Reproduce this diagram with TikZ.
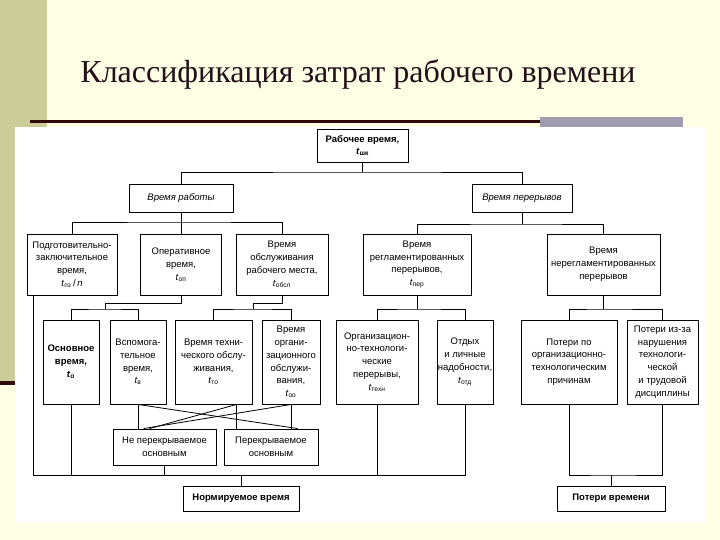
\documentclass[tikz,border=0pt]{standalone}
\usepackage{fontspec}
\setmainfont{Liberation Sans}
\newfontfamily\titlefont{Liberation Serif}
\usetikzlibrary{calc}
\definecolor{slidebg}{HTML}{FFFFE5}
\definecolor{khaki}{HTML}{CCCC99}
\definecolor{rulec}{HTML}{2E0A0A}
\definecolor{barc}{HTML}{9F9CAD}
\definecolor{titlec}{HTML}{24101A}
\newcommand\tvar[1]{\textit{t}\textsubscript{#1}}
\begin{document}
\begin{tikzpicture}[x=1pt,y=-1pt,
  box/.style={draw=black, line width=0.9pt, fill=white, align=center, inner sep=0pt,
    font=\fontsize{9.5}{12.8}\selectfont},
  conn/.style={draw=black, line width=0.8pt},
]
\useasboundingbox (0,0) rectangle (720,540);
\fill[slidebg] (0,0) rectangle (720,540);
\fill[khaki] (0,0) rectangle (47,381);
\fill[rulec] (0,381) rectangle (47,385);
\fill[barc] (540,117) rectangle (683,127);
\fill[rulec] (30,120.5) rectangle (540,123.5);
\node[text=titlec, font=\titlefont\fontsize{32}{38}\selectfont, anchor=base] (title) at (358,83) {Классификация затрат рабочего времени};
\fill[white] (15,127) rectangle (706,523);

% level 1-2
\node[box, minimum width=91, minimum height=33] (root) at (362.5,145.5) {\bfseries Рабочее время,\\ \bfseries\tvar{шк}};
\node[box, minimum width=104, minimum height=28, font=\fontsize{9.5}{12.8}\selectfont\itshape] (work) at (181,198) {Время работы};
\node[box, minimum width=100, minimum height=28, font=\fontsize{9.5}{12.8}\selectfont\itshape] (brk) at (522,198) {Время перерывов};

% level 3
\node[box, minimum width=90, minimum height=61] (pz) at (72,264.5) {Подготовительно-\\заключительное\\время,\\\tvar{пз}\,/\,\textit{n}};
\node[box, minimum width=81, minimum height=61] (op) at (181,264.5) {Оперативное\\время,\\\tvar{оп}};
\node[box, minimum width=92, minimum height=61] (obsl) at (282,264.5) {Время\\обслуживания\\рабочего места,\\\tvar{обсл}};
\node[box, minimum width=108, minimum height=61] (reg) at (417,264.5) {Время\\регламентированных\\перерывов,\\\tvar{пер}};
\node[box, minimum width=113, minimum height=61] (nereg) at (603.5,264.5) {Время\\нерегламентированных\\перерывов};

% level 4
\node[box, minimum width=56, minimum height=84, font=\fontsize{9.5}{12.8}\selectfont\bfseries] (osn) at (71,362) {Основное\\время,\\\tvar{о}};
\node[box, minimum width=56, minimum height=84] (vsp) at (138,362) {Вспомога-\\тельное\\время,\\\tvar{в}};
\node[box, minimum width=77, minimum height=84] (tekh) at (213.5,362) {Время техни-\\ческого обслу-\\живания,\\\tvar{то}};
\node[box, minimum width=58, minimum height=84] (org) at (291,362) {Время\\органи-\\зационного\\обслужи-\\вания,\\\tvar{оо}};
\node[box, minimum width=82, minimum height=84] (ortp) at (377,362) {Организацион-\\но-технологи-\\ческие\\перерывы,\\\tvar{техн}};
\node[box, minimum width=56, minimum height=84] (otd) at (465,362) {Отдых\\и личные\\надобности,\\\tvar{отд}};
\node[box, minimum width=96, minimum height=84] (pot1) at (569,362) {Потери по\\организационно-\\технологическим\\причинам};
\node[box, minimum width=71, minimum height=84] (pot2) at (662.5,362) {Потери из-за\\нарушения\\технологи-\\ческой\\и трудовой\\дисциплины};

% level 5-6
\node[box, minimum width=103, minimum height=36] (nepk) at (164.5,447) {Не перекрываемое\\основным};
\node[box, minimum width=94, minimum height=36] (pk) at (271,447) {Перекрываемое\\основным};
\node[box, minimum width=116, minimum height=25, font=\fontsize{9.5}{12.8}\selectfont\bfseries] (norm) at (241,498.5) {Нормируемое время};
\node[box, minimum width=108, minimum height=25, font=\fontsize{9.5}{12.8}\selectfont\bfseries] (pot) at (611,498.5) {Потери времени};

% bus levels and joints
\coordinate (b1) at (0,172);
\coordinate (b2) at (0,222);
\coordinate (b3) at (0,224);
\coordinate (lv3) at (0,309);
\coordinate (bb) at (0,475);
\coordinate (j1) at (105,303);
\coordinate (j2) at (105,309);
\coordinate (j3) at (253,303);
\coordinate (j4) at (253,309);
\coordinate (pzd) at ($(pz.south west)+(7,0)$);
\coordinate (tkv) at ($(tekh.south west)+(62,0)$);
\coordinate (vspe) at ($(pk.north west)+(74,0)$);
\coordinate (tke) at ($(nepk.north west)+(37,0)$);
\coordinate (orge) at ($(nepk.north west)+(31,0)$);

% top tree
\draw[conn] (root.south) -- (root.south |- b1);
\draw[conn] (work.north) |- (root.south |- b1) -| (brk.north);
\draw[conn] (work.south) -- (op.north);
\draw[conn] (pz.north) |- (work.south |- b2) -| (obsl.north);
\draw[conn] (brk.south) -- (brk.south |- b3);
\draw[conn] (reg.north) |- (brk.south |- b3) -| (nereg.north);

% level 3 to 4
\draw[conn] (op.south) |- (j1) -- (j2);
\draw[conn] (osn.north) |- (j2) -| (vsp.north);
\draw[conn] (obsl.south) |- (j3) -- (j4);
\draw[conn] (tekh.north) |- (j4) -| (org.north);
\draw[conn] (reg.south) -- (reg.south |- lv3);
\draw[conn] (ortp.north) |- (reg.south |- lv3) -| (otd.north);
\draw[conn] (nereg.south) -- (nereg.south |- lv3);
\draw[conn] (pot1.north) |- (nereg.south |- lv3) -| (pot2.north);

% crossing lines
\draw[conn] (vsp.south) -- (vsp.south |- nepk.north);
\draw[conn] (vsp.south) -- (vspe);
\draw[conn] (tkv) -- (tkv |- pk.north);
\draw[conn] (tkv) -- (tke);
\draw[conn] (org.south) -- (org.south |- pk.north);
\draw[conn] (org.south) -- (orge);

% bottom bus (normed time)
\draw[conn] (pzd) -- (pzd |- bb) -- (otd.south |- bb) -- (otd.south);
\draw[conn] (osn.south) -- (osn.south |- bb);
\draw[conn] (ortp.south) -- (ortp.south |- bb);
\draw[conn] (nepk.south) -- (nepk.south |- bb);
\draw[conn] (norm.north) -- (norm.north |- bb);

% losses
\draw[conn] (pot1.south) |- (pot.north |- bb) -| (pot2.south);
\draw[conn] (pot.north) -- (pot.north |- bb);
\end{tikzpicture}
\end{document}
